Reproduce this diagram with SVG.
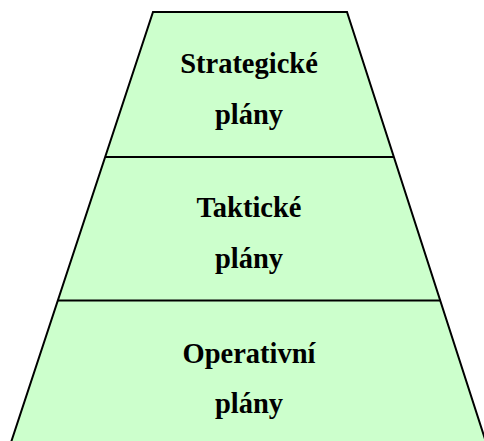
<svg xmlns="http://www.w3.org/2000/svg" width="484" height="441" viewBox="0 0 484 441">
<style>
text{font-family:'Liberation Serif',serif;font-weight:bold;font-size:28.5px;fill:#000;text-anchor:middle}
.ln{stroke:#000;stroke-width:2;fill:none}
</style>
<rect width="484" height="441" fill="#fff"/>
<g id="pyramid">
<polygon points="153,12 347,12 488.5,450 8.5,450" fill="#ccffcc" stroke="#000" stroke-width="2"/>
</g>
<g id="connectors">
<line class="ln" x1="105" y1="157" x2="394" y2="157"/>
<line class="ln" x1="58" y1="300.5" x2="441" y2="300.5"/>
</g>
<g id="strategicke">
<text x="249" y="73">Strategické</text>
<text x="249" y="124">plány</text>
</g>
<g id="takticke">
<text x="249" y="217">Taktické</text>
<text x="249" y="268">plány</text>
</g>
<g id="operativni">
<text x="249" y="363">Operativní</text>
<text x="249" y="413">plány</text>
</g>
</svg>
